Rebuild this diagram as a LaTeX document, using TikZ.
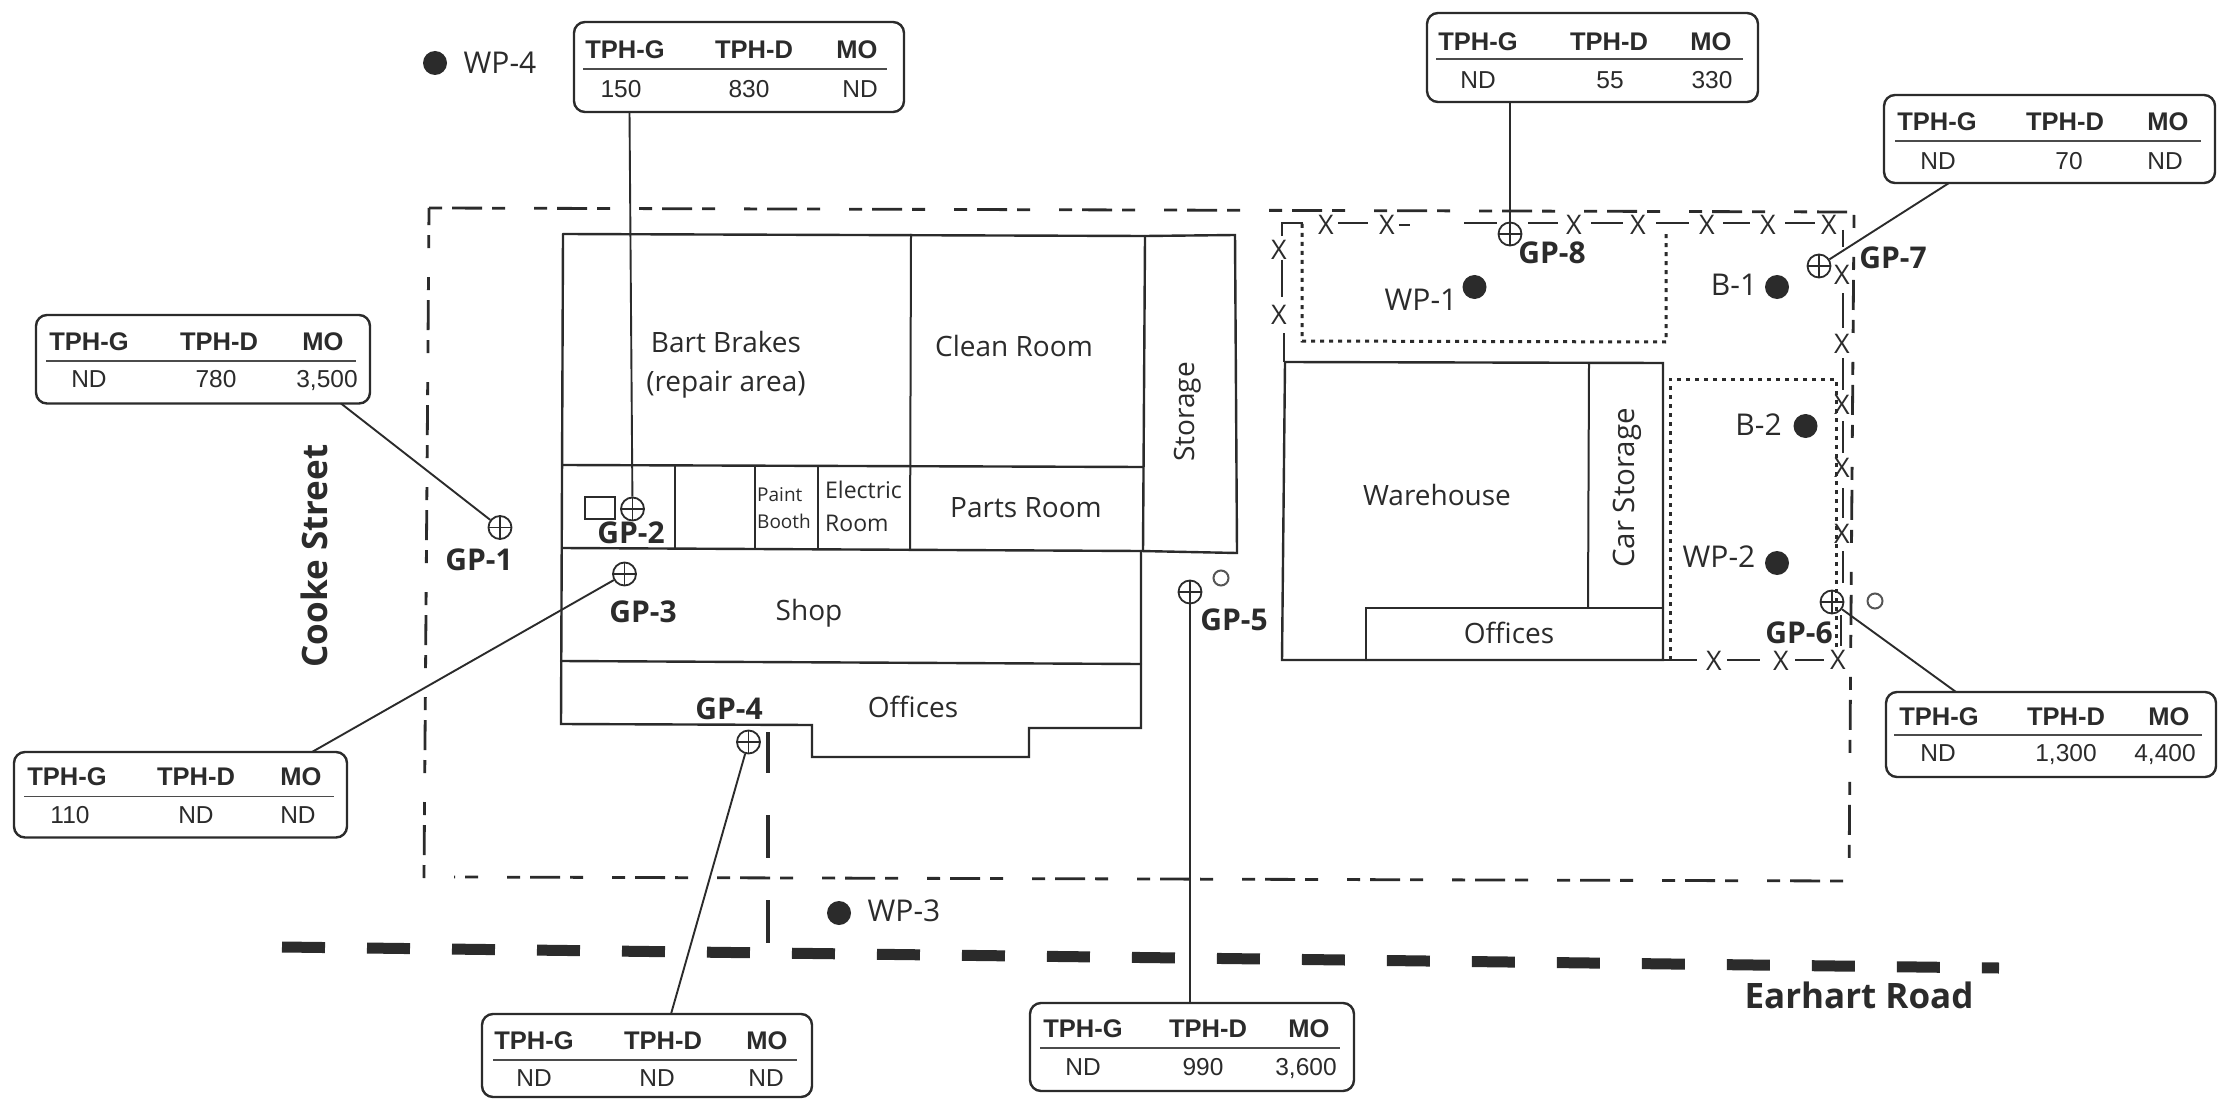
\documentclass[tikz,border=0pt]{standalone}
\usepackage{fontspec}
\setmainfont{Open Sans}
\newfontfamily\tablefont{Liberation Sans}
\newcommand{\fs}[1]{\fontsize{#1}{#1}\selectfont}
\definecolor{ink}{HTML}{2B2B2B}
\tikzset{
  wall/.style={draw=ink,line width=2.4pt,line cap=round,line join=miter},
  thinwall/.style={draw=ink,line width=2pt},
  leader/.style={draw=ink,line width=1.9pt},
  site/.style={draw=ink,line width=2.8pt,dash pattern=on 13pt off 10pt on 30pt off 10pt on 13pt off 29pt},
  road/.style={draw=ink,line width=11pt,dash pattern=on 43pt off 42pt},
  access/.style={draw=ink,line width=3.6pt},
  dotline/.style={draw=ink,line width=3pt,dash pattern=on 4pt off 5pt},
  fenceline/.style={draw=ink,line width=2.2pt},
  fencex/.style={inner sep=0pt,text=ink,font=\fs{27}},
  databox/.style={draw=ink,line width=2.4pt,rounded corners=11pt,fill=white,inner sep=0pt},
  headtext/.style={inner sep=0pt,text=ink,text height=17pt,text depth=0pt,font=\tablefont\bfseries\fs{25.5}},
  valtext/.style={inner sep=0pt,text=ink,text height=17pt,text depth=0pt,font=\tablefont\fs{24.5}},
  room/.style={inner sep=0pt,text=ink,font=\fs{28}},
  gplabel/.style={inner sep=0pt,text=ink,font=\bfseries\fs{30}},
  welllabel/.style={inner sep=0pt,text=ink,font=\fs{30}},
  street/.style={inner sep=0pt,text=ink,font=\bfseries\fs{35}},
  welldot/.style={circle,fill=ink,draw=none,inner sep=0pt,minimum size=24pt},
  opendot/.style={circle,draw=ink!80,line width=2pt,fill=none,inner sep=0pt,minimum size=15pt},
  gpmark/.style={circle,draw=ink,line width=1.8pt,inner sep=0pt,minimum size=23pt,
    path picture={\draw[ink,line width=1.5pt]
      (path picture bounding box.north)--(path picture bounding box.south)
      (path picture bounding box.west)--(path picture bounding box.east);}},
}
% frame: name, x1,y1,x2,y2, rule y, rule x1, rule x2
\newcommand{\dtframe}[8]{%
  \node[databox,minimum width=#4pt-#2pt,minimum height=#5pt-#3pt] (#1) at ({(#2+#4)/2},{(#3+#5)/2}) {};
  \draw[draw=ink!85,line width=1.8pt] (#7,#6) -- (#8,#6);}
% header: name, y, x1,x2,x3
\newcommand{\dthead}[5]{%
  \node[headtext] (#1ha) at (#3,#2) {TPH-G};
  \node[headtext] (#1hb) at (#4,#2) {TPH-D};
  \node[headtext] (#1hc) at (#5,#2) {MO};}
% values: name, y, x1,v1,x2,v2,x3,v3
\newcommand{\dtvals}[8]{%
  \node[valtext] (#1va) at (#3,#2) {#4};
  \node[valtext] (#1vb) at (#5,#2) {#6};
  \node[valtext] (#1vc) at (#7,#2) {#8};}
\begin{document}
\begin{tikzpicture}[x=1pt,y=-1pt]
\path[use as bounding box,fill=white] (0,0) rectangle (2221,1099);

% road and site boundary
\draw[road] (282,947) -- (1999,968);
\draw[site] (429,208) -- (1854,212) -- (1849,881) -- (454,877);
\draw[site] (424,878) -- (429,208);
\draw[access] (768,732) -- (768,773) (768,815) -- (768,858) (768,900) -- (768,943);

% main building
\draw[wall] (563,234) -- (1145,236) -- (1235,235) -- (1237,553) -- (1141,551);
\draw[wall] (1145,236) -- (1143,551);
\draw[wall] (563,234) -- (561,724) -- (812,725) -- (812,757) -- (1029,757) -- (1029,728) -- (1141,728) -- (1141,551);
\draw[wall] (563,465) -- (1143,467);
\draw[wall] (562,548) -- (1141,551);
\draw[wall] (561,661) -- (1141,664);
\draw[thinwall] (911,234) -- (910,550);
\draw[thinwall] (675,465) -- (675,549);
\draw[thinwall] (755,465) -- (755,549);
\draw[thinwall] (818,465) -- (818,549);
\draw[thinwall] (585,497) rectangle (615,519);

% warehouse
\draw[wall] (1285,362) -- (1663,363) -- (1663,660) -- (1282,660) -- cycle;
\draw[thinwall] (1589,363) -- (1588,608);
\draw[wall] (1366,660) -- (1366,608) -- (1663,608);

% dotted areas
\draw[dotline] (1302,224) -- (1302,341) -- (1666,342) -- (1666,230);
\draw[dotline] (1670,660) -- (1670,379) -- (1836,379) -- (1836,650);

% fence
\draw[fenceline] (1303,223) -- (1282,223) -- (1282,236)
  (1282,260) -- (1282,297) (1284,333) -- (1284,362)
  (1338,223) -- (1368,223) (1399,225) -- (1410,225)
  (1464,223) -- (1497,223) (1528,223) -- (1558,223)
  (1591,223) -- (1623,223) (1656,223) -- (1689,223)
  (1723,223) -- (1750,223) (1785,223) -- (1815,223)
  (1843,230) -- (1843,247) (1843,293) -- (1843,328)
  (1843,358) -- (1843,390) (1843,421) -- (1843,453)
  (1843,488) -- (1843,518) (1843,551) -- (1843,583) (1841,615) -- (1841,646)
  (1663,660) -- (1697,660) (1727,660) -- (1760,660) (1795,660) -- (1824,660);
\foreach \px/\py [count=\i] in {1279/250,1279/315,1326/225,1387/225,1574/225,1638/225,1707/225,1768/225,1829/225,1842/275,1842/344,1842/405,1842/468,1842/534,1714/661,1781/661,1838/660}
  \node[fencex] (fx\i) at (\px,\py) {X};

% monitoring points
\node[gpmark] (g1) at (500,527.5) {};
\node[gpmark] (g2) at (632.5,509) {};
\node[gpmark] (g3) at (624.5,574) {};
\node[gpmark] (g4) at (748.5,742) {};
\node[gpmark] (g5) at (1190,592) {};
\node[gpmark] (g6) at (1832,602) {};
\node[gpmark] (g7) at (1819,266) {};
\node[gpmark] (g8) at (1510,234) {};
\node[opendot] (o5) at (1221,578) {};
\node[opendot] (o6) at (1875,601) {};

\node[gplabel] (lg1) at (479,560) {GP-1};
\node[gplabel] (lg2) at (631,533) {GP-2};
\node[gplabel] (lg3) at (643,612) {GP-3};
\node[gplabel] (lg4) at (729,709) {GP-4};
\node[gplabel] (lg5) at (1234,620) {GP-5};
\node[gplabel] (lg6) at (1799,633) {GP-6};
\node[gplabel] (lg7) at (1893,258) {GP-7};
\node[gplabel] (lg8) at (1552,253) {GP-8};

% wells
\node[welldot] (w1) at (1474.5,287) {};
\node[welldot] (w2) at (1777,563) {};
\node[welldot] (w3) at (839,913) {};
\node[welldot] (w4) at (435,63) {};
\node[welldot] (b1) at (1777,287) {};
\node[welldot] (b2) at (1805.5,426) {};
\node[welllabel] (lw1) at (1421,300) {WP-1};
\node[welllabel] (lw2) at (1719,557) {WP-2};
\node[welllabel] (lw3) at (904,911) {WP-3};
\node[welllabel] (lw4) at (500,63) {WP-4};
\node[welllabel] (lb1) at (1734,285) {B-1};
\node[welllabel] (lb2) at (1758.5,425) {B-2};

% rooms
\node[room] (r1) at (726,342) {Bart Brakes};
\node[room] (r1b) at (726,385) {(repair area)};
\node[room] (r2) at (1014,346) {Clean Room};
\node[room,rotate=90] (r3) at (1187.6,412) {Storage};
\node[room] (r4) at (1026,508) {Parts Room};
\node[room,font=\fs{23},anchor=west] (r5) at (825,490) {Electric};
\node[room,font=\fs{23},anchor=west] (r5b) at (825,523) {Room};
\node[room,font=\fs{19},anchor=west] (r6) at (757,495) {Paint};
\node[room,font=\fs{19},anchor=west] (r6b) at (757,521) {Booth};
\node[room] (r7) at (809,613) {Shop};
\node[room] (r8) at (913,707) {Offices};
\node[room] (r9) at (1437,495) {Warehouse};
\node[room,rotate=90,font=\fs{29.5}] (r10) at (1627.5,488) {Car Storage};
\node[room] (r11) at (1509,633) {Offices};
\node[street,rotate=90] (s1) at (314,556) {Cooke Street};
\node[street] (s2) at (1859,995) {Earhart Road};

% data boxes
\dtframe{t1}{36}{315}{370}{403.5}{361}{46}{356}
\dthead{t1}{342}{89}{219}{323}
\dtvals{t1}{379}{89}{ND}{216}{780}{327}{3,500}
\dtframe{t2}{574}{22}{904}{112}{69}{583}{887}
\dthead{t2}{50}{625}{754}{857}
\dtvals{t2}{89}{621}{150}{749}{830}{860}{ND}
\dtframe{t3}{14}{752}{347}{837.5}{796.5}{24}{334}
\dthead{t3}{777}{67}{196}{301}
\dtvals{t3}{815}{70}{110}{196}{ND}{298}{ND}
\dtframe{t4}{482}{1014}{812}{1097}{1060}{493}{797}
\dthead{t4}{1041}{534}{663}{767}
\dtvals{t4}{1078}{534}{ND}{657}{ND}{766}{ND}
\dtframe{t5}{1030}{1003}{1354}{1091}{1048}{1040}{1340}
\dthead{t5}{1029}{1083}{1208}{1309}
\dtvals{t5}{1067}{1083}{ND}{1203}{990}{1306}{3,600}
\dtframe{t6}{1886}{692}{2216}{777}{735}{1894}{2202}
\dthead{t6}{717}{1939}{2066}{2169}
\dtvals{t6}{753}{1938}{ND}{2066}{1,300}{2165}{4,400}
\dtframe{t7}{1884}{95}{2215}{183}{141}{1895}{2201}
\dthead{t7}{122}{1937}{2065}{2168}
\dtvals{t7}{161}{1938}{ND}{2069}{70}{2165}{ND}
\dtframe{t8}{1427}{13}{1758}{102}{59}{1436}{1743}
\dthead{t8}{42}{1478}{1609}{1711}
\dtvals{t8}{80}{1478}{ND}{1610}{55}{1712}{330}

% leaders
\coordinate (a1) at (341,403.5);
\coordinate (a2) at (629.5,112);
\coordinate (a3) at (312,752);
\coordinate (a4) at (671,1014);
\coordinate (a5) at (1190,1003);
\coordinate (a6) at (1956,692);
\coordinate (a7) at (1949,183);
\coordinate (a8) at (1510,102);
\foreach \i in {1,...,8} \draw[leader] (a\i) -- (g\i);
\end{tikzpicture}
\end{document}
